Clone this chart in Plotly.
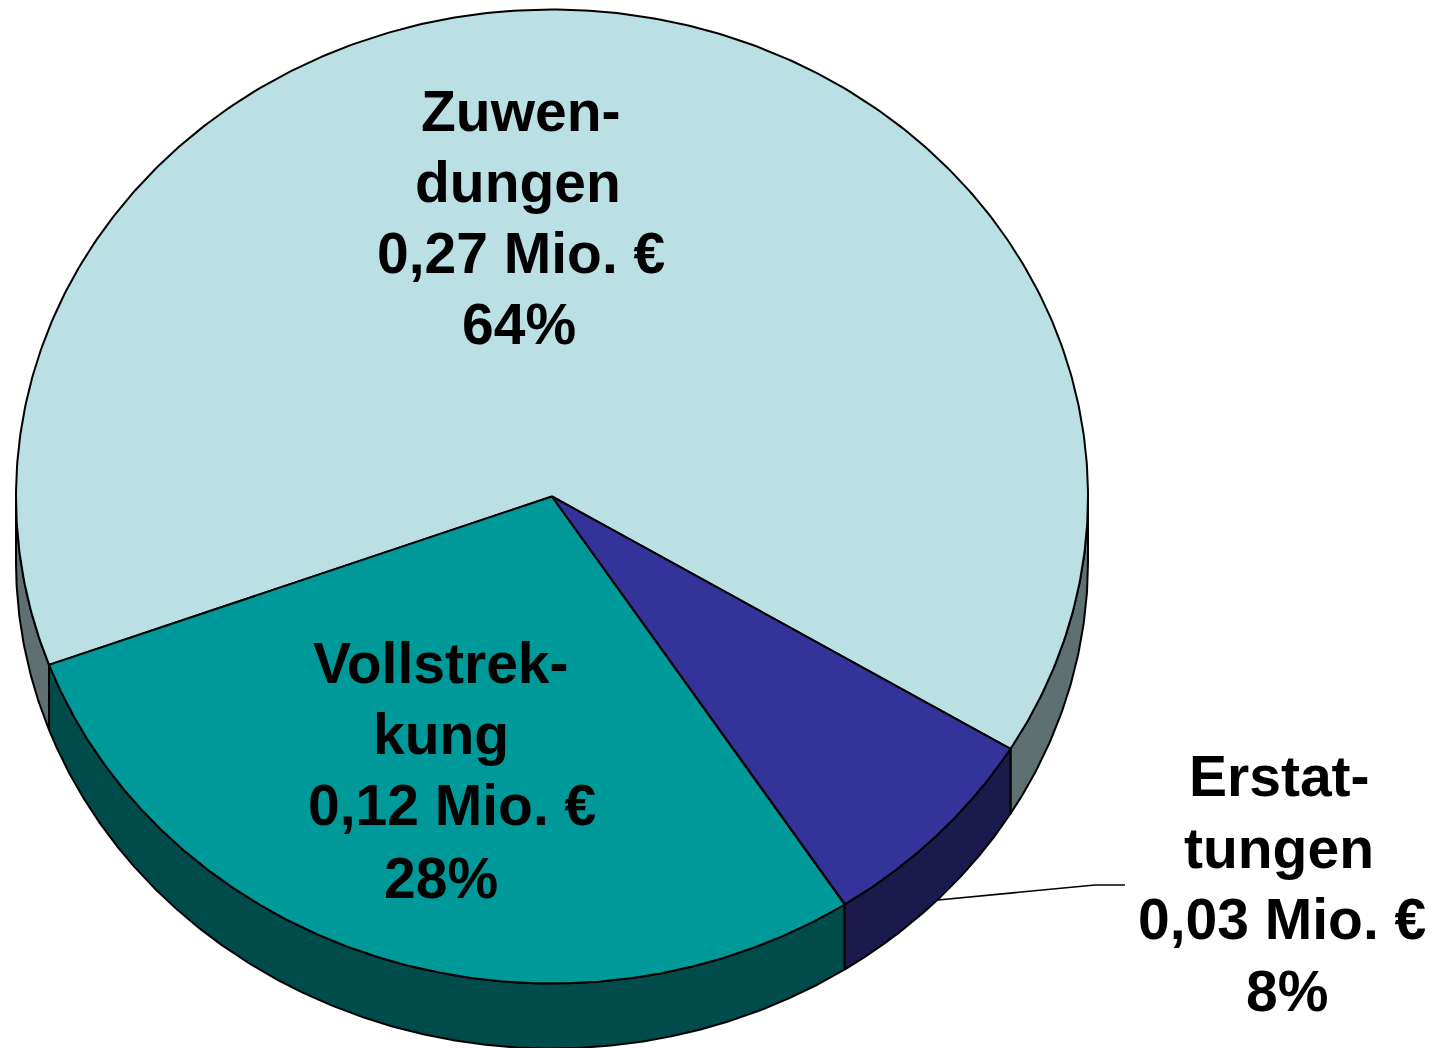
import numpy as np
import plotly.graph_objects as go

categories = ["Zuwendungen", "Vollstreckung", "Erstattungen"]
values = [0.27, 0.12, 0.03]
top_colors = ["#BBE0E3", "#009999", "#333399"]
side_colors = ["#5E7072", "#004C4C", "#1A1A4C"]

label_lines = [
    ["Zuwen-", "dungen", "0,27 Mio. €", "64%"],
    ["Vollstrek-", "kung", "0,12 Mio. €", "28%"],
    ["Erstat-", "tungen", "0,03 Mio. €", "8%"],
]
label_x = [
    [520, 518, 521, 519],
    [441, 441, 452, 441],
    [1279, 1279, 1282, 1287],
]
label_y = [
    [111, 182, 253, 324],
    [663, 734, 805, 878],
    [776, 848, 919, 991],
]
leader_x = [938, 1095, 1125]
leader_y = [900, 885, 885]

CX, CY, RX, RY, DEPTH = 552, 496.5, 536, 487, 65
START_DEG = -31.2  # the first slice runs counter-clockwise from here
EDGE = dict(color="black", width=2)
FONT = dict(family="Liberation Sans, Arial, sans-serif", size=57, color="black")

fig = go.Figure()

def ex(t):
    return CX + RX * np.cos(t)

def ey(t, d=0):
    return CY - RY * np.sin(t) + d

total = sum(values)
edges = [START_DEG]
for v in values:
    edges.append(edges[-1] + 360 * v / total)
edges = np.radians(edges)

# side walls: only the part of each slice that faces the viewer
for i in range(len(values)):
    a, b = edges[i], edges[i + 1]
    ts = np.linspace(a, b, 500)
    ts = ts[np.sin(ts) <= 0]
    if len(ts) == 0:
        continue
    # the first slice wraps round, so its visible part falls into two runs
    breaks = np.where(np.diff(ts) > 2 * (b - a) / 499)[0] + 1
    for run in np.split(ts, breaks):
        x = np.r_[ex(run), ex(run[::-1])]
        y = np.r_[ey(run), ey(run[::-1], DEPTH)]
        fig.add_trace(go.Scatter(x=np.r_[x, x[0]], y=np.r_[y, y[0]], mode="lines",
                                 fill="toself", fillcolor=side_colors[i], line=EDGE,
                                 hoverinfo="skip", showlegend=False))

# top faces
for i, name in enumerate(categories):
    ts = np.linspace(edges[i], edges[i + 1], 400)
    x = np.r_[CX, ex(ts), CX]
    y = np.r_[CY, ey(ts), CY]
    fig.add_trace(go.Scatter(x=x, y=y, mode="lines", fill="toself",
                             fillcolor=top_colors[i], line=EDGE, name=name,
                             hoverinfo="name", showlegend=False))

fig.add_trace(go.Scatter(x=leader_x, y=leader_y, mode="lines",
                         line=dict(color="black", width=1.6),
                         hoverinfo="skip", showlegend=False))

for lines, xs, ys in zip(label_lines, label_x, label_y):
    for t, x, y in zip(lines, xs, ys):
        fig.add_annotation(x=x, y=y, text=f"<b>{t}</b>", showarrow=False,
                           xanchor="center", yanchor="middle", font=FONT)

fig.update_layout(
    width=1447, height=1048, margin=dict(l=0, r=0, t=0, b=0),
    paper_bgcolor="white", plot_bgcolor="white",
    xaxis=dict(range=[0, 1447], visible=False, fixedrange=True),
    yaxis=dict(range=[1048, 0], visible=False, fixedrange=True),
)
fig.write_html("out.html", config={"displayModeBar": False},
               post_script="document.body.style.margin='0';document.documentElement.style.overflow='hidden';")
